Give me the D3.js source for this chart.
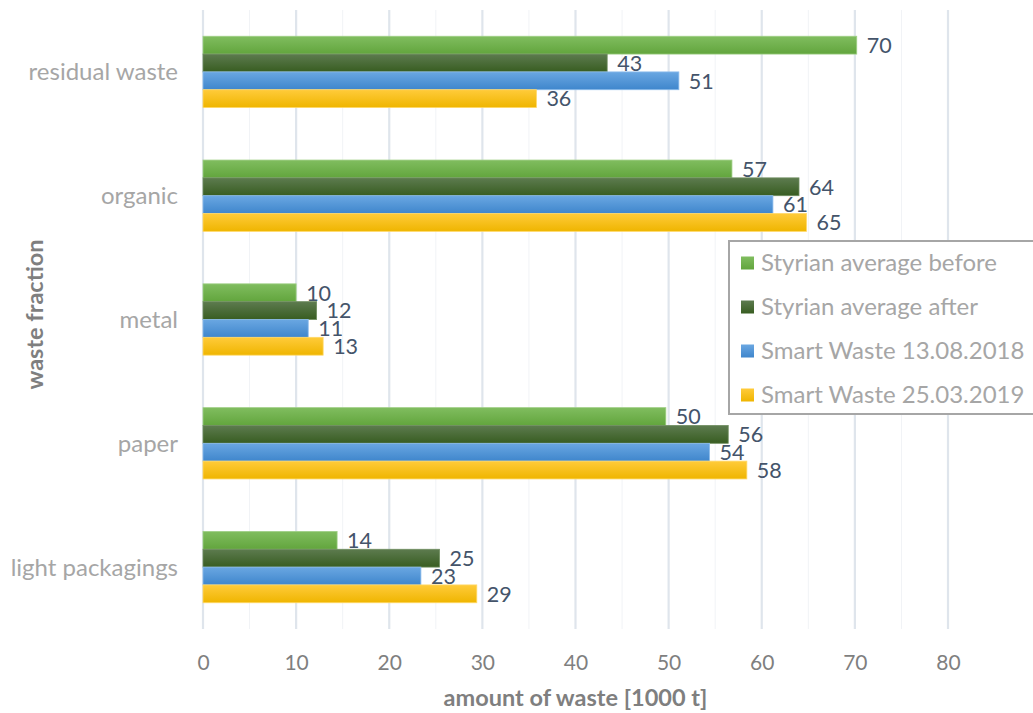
<!DOCTYPE html>
<html>
<head>
<meta charset="utf-8">
<script src="https://cdn.jsdelivr.net/npm/d3@7"></script>
<style>
  html, body { margin: 0; padding: 0; background: #fff; }
  svg { display: block; font-family: Lato, "Open Sans", sans-serif; }
</style>
</head>
<body>
<svg id="chart" width="1033" height="713"></svg>
<script>
// Waste fractions, top to bottom
const categories = ["residual waste", "organic", "metal", "paper", "light packagings"];

// Series names (legend order)
const seriesNames = [
  "Styrian average before",
  "Styrian average after",
  "Smart Waste 13.08.2018",
  "Smart Waste 25.03.2019"
];

// Amount of waste [1000 t] per fraction, one array per series
const styrianBefore = [70.2, 56.8, 10.0, 49.7, 14.4];
const styrianAfter  = [43.4, 64.0, 12.2, 56.4, 25.4];
const smart2018     = [51.1, 61.2, 11.3, 54.4, 23.4];
const smart2019     = [35.8, 64.8, 12.9, 58.4, 29.4];

const xTicks = [0, 10, 20, 30, 40, 50, 60, 70, 80];

const seriesValues = [styrianBefore, styrianAfter, smart2018, smart2019];
const seriesColors = [
  { top: "#80bd5f", bottom: "#62a53d", stroke: "#9fcf85" },
  { top: "#5d7b4f", bottom: "#385d21", stroke: "#6f8d5f" },
  { top: "#6aa7e2", bottom: "#3f86cc", stroke: "#8cbcec" },
  { top: "#ffcb3a", bottom: "#efb500", stroke: "#ffd866" }
];

const svg = d3.select("#chart");
const margin = { left: 203, right: 85, top: 10, bottom: 84 };
const W = 1033, H = 713;
const plotH = H - margin.top - margin.bottom;

const x = d3.scaleLinear().domain([0, 80]).range([0, 745]);
const y = d3.scaleBand().domain(categories).range([0, plotH]).paddingInner(0.424).paddingOuter(0.212);
const yInner = d3.scaleBand().domain(d3.range(seriesNames.length)).range([0, y.bandwidth()]);

// Gradients for bars
const defs = svg.append("defs");
seriesColors.forEach((c, i) => {
  const g = defs.append("linearGradient").attr("id", "grad" + i)
    .attr("x1", 0).attr("y1", 0).attr("x2", 0).attr("y2", 1);
  g.append("stop").attr("offset", "0%").attr("stop-color", c.top);
  g.append("stop").attr("offset", "100%").attr("stop-color", c.bottom);
});

const g = svg.append("g").attr("transform", `translate(${margin.left},${margin.top})`);

// Minor gridlines every 5
const minor = d3.range(5, 80, 10);
g.selectAll(".minor").data(minor).join("line")
  .attr("x1", d => x(d)).attr("x2", d => x(d))
  .attr("y1", 0).attr("y2", plotH)
  .attr("stroke", "#f1f3f6").attr("stroke-width", 1);

// Major gridlines every 10
g.selectAll(".major").data(xTicks).join("line")
  .attr("x1", d => x(d)).attr("x2", d => x(d))
  .attr("y1", 0).attr("y2", plotH)
  .attr("stroke", "#dfe5ec").attr("stroke-width", 2.2);

// X axis tick labels
const xAxis = d3.axisBottom(x).tickValues(xTicks).tickSize(0).tickPadding(0);
const xa = g.append("g").attr("transform", `translate(0,${plotH})`).call(xAxis);
xa.select(".domain").remove();
xa.selectAll("text")
  .attr("y", 34).attr("dy", "0.35em")
  .attr("fill", "#7f7f7f").style("font-size", "21px").style("font-family", "Lato, sans-serif");

// Y axis category labels
const yAxis = d3.axisLeft(y).tickSize(0).tickPadding(0);
const ya = g.append("g").call(yAxis);
ya.select(".domain").remove();
ya.selectAll("text")
  .attr("x", -25).attr("dy", "0.35em")
  .attr("fill", "#a6a6a6").style("font-size", "24px").style("font-family", "Lato, sans-serif");

// Bars
const groups = g.selectAll(".grp").data(categories).join("g")
  .attr("transform", d => `translate(0,${y(d)})`);

seriesValues.forEach((vals, si) => {
  groups.append("rect")
    .attr("x", 0)
    .attr("y", yInner(si))
    .attr("width", (d, ci) => x(vals[ci]))
    .attr("height", yInner.bandwidth())
    .attr("fill", `url(#grad${si})`)
    .attr("stroke", seriesColors[si].stroke)
    .attr("stroke-width", 0.8);
});

// Value labels
const fmt = d3.format(".0f");
seriesValues.forEach((vals, si) => {
  groups.append("text")
    .attr("x", (d, ci) => x(vals[ci]) + 10)
    .attr("y", yInner(si) + yInner.bandwidth() / 2)
    .attr("dy", "0.36em")
    .attr("fill", "#44546a")
    .style("font-size", "21.5px")
    .text((d, ci) => fmt(vals[ci]));
});

// Axis titles
svg.append("text")
  .attr("x", margin.left + x(40)).attr("y", 698)
  .attr("dy", "0.35em").attr("text-anchor", "middle")
  .attr("fill", "#7f7f7f").style("font-size", "23.5px").style("font-weight", "bold")
  .text("amount of waste [1000 t]");

svg.append("text")
  .attr("transform", `translate(35,${margin.top + plotH / 2 - 5}) rotate(-90)`)
  .attr("dy", "0.35em").attr("text-anchor", "middle")
  .attr("fill", "#7f7f7f").style("font-size", "23.5px").style("font-weight", "bold")
  .text("waste fraction");

// Legend
const lg = svg.append("g").attr("transform", "translate(729,241)");
lg.append("rect")
  .attr("x", 0).attr("y", 0).attr("width", 320).attr("height", 173)
  .attr("fill", "#fff").attr("stroke", "#a6a6a6").attr("stroke-width", 2);
seriesNames.forEach((name, i) => {
  const cy = 22 + i * 44;
  lg.append("rect")
    .attr("x", 12).attr("y", cy - 6.5).attr("width", 13).attr("height", 13)
    .attr("fill", `url(#grad${i})`);
  lg.append("text")
    .attr("x", 32).attr("y", cy).attr("dy", "0.35em")
    .attr("fill", "#a6a6a6").style("font-size", "24px")
    .text(name);
});
</script>
</body>
</html>
